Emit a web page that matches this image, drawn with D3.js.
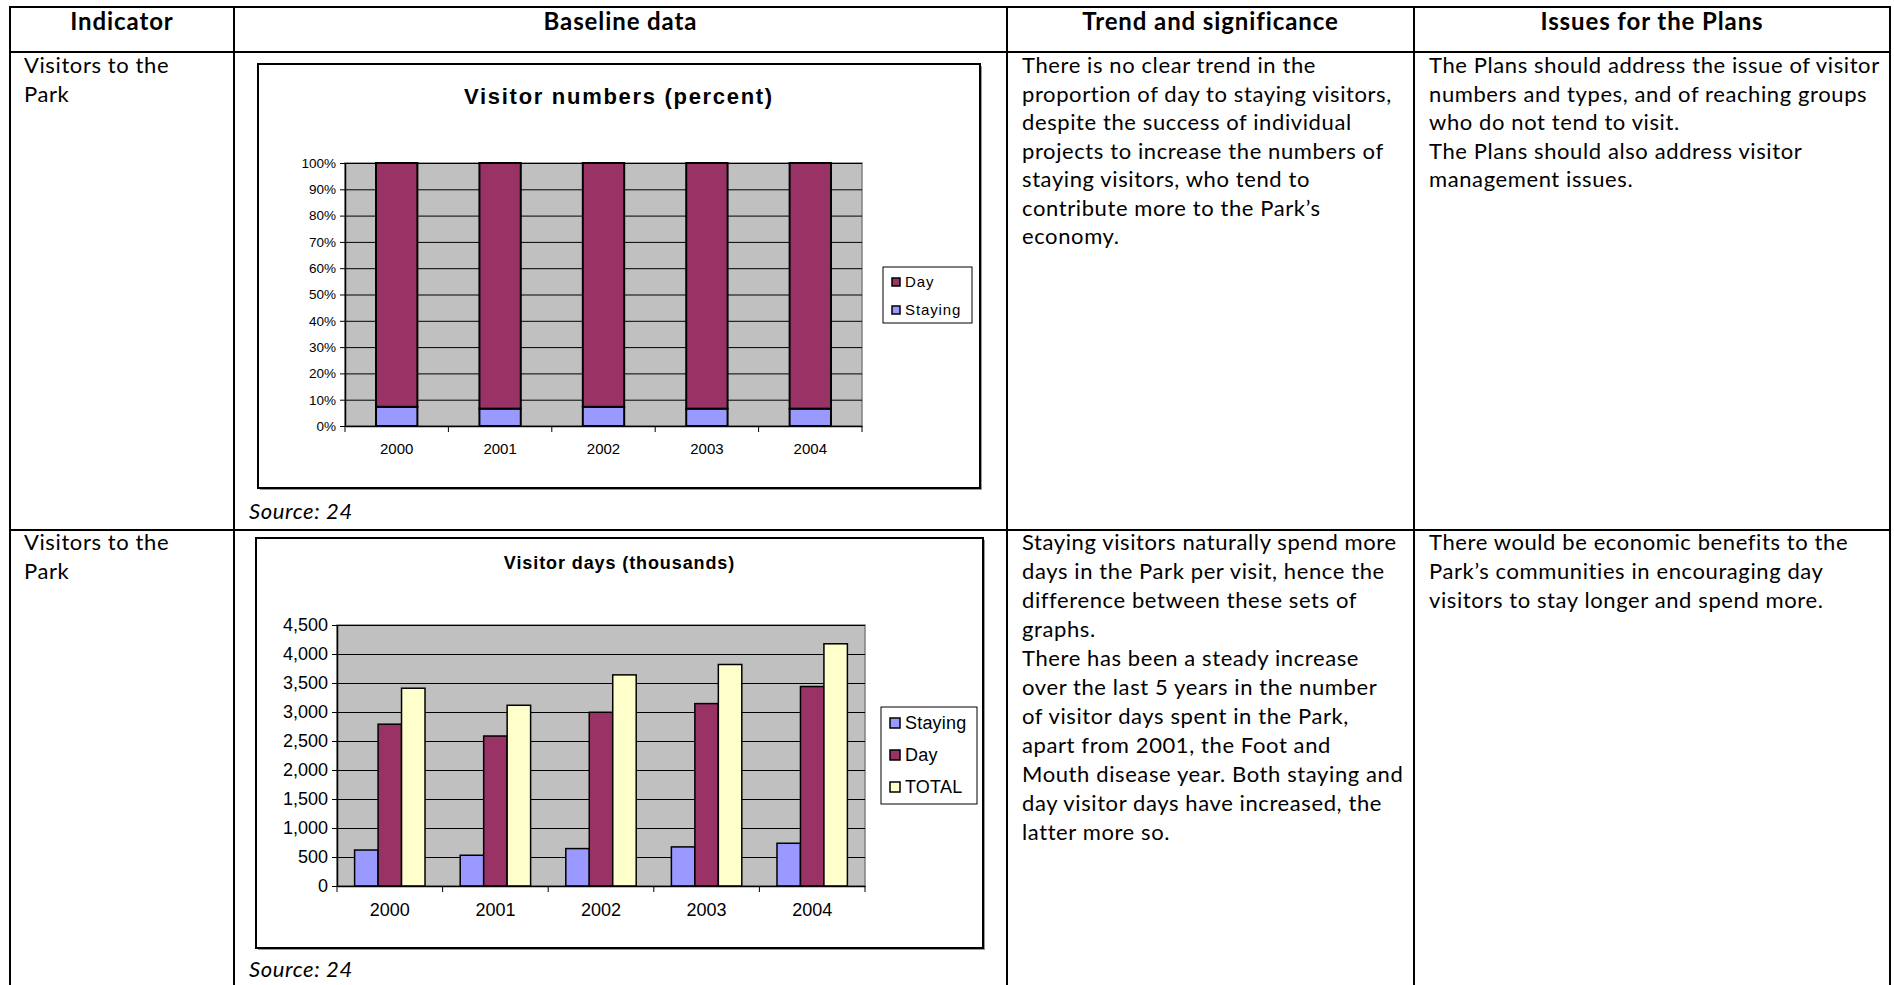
<!DOCTYPE html>
<html>
<head>
<meta charset="utf-8">
<script src="https://cdn.jsdelivr.net/npm/d3@7"></script>
<style>
  body { margin: 0; background: #fff; }
  svg { display: block; }
  .body-text { font-family: Lato, "Open Sans", sans-serif; font-size: 22px; letter-spacing: 0.6px; fill: #000; }
  .head-text { font-family: Lato, "Open Sans", sans-serif; font-size: 24px; letter-spacing: 0.9px; font-weight: bold; fill: #000; }
  .chart-text { font-family: "Liberation Sans", Arial, sans-serif; fill: #000; }
</style>
</head>
<body>
<svg id="page" width="1894" height="985"></svg>
<script>
// ---- data ----
const years = ['2000', '2001', '2002', '2003', '2004'];

// chart 1: visitor numbers, percent
const pctSeries = ['Staying', 'Day'];
const stayingPct = [7.3, 6.6, 7.3, 6.6, 6.6];
const dayPct = [92.7, 93.4, 92.7, 93.4, 93.4];
const pctTicks = [0, 10, 20, 30, 40, 50, 60, 70, 80, 90, 100];

// chart 2: visitor days, thousands
const daySeries = ['Staying', 'Day', 'TOTAL'];
const stayingDays = [620, 530, 645, 674, 737];
const dayDays = [2790, 2586, 2995, 3145, 3439];
const totalDays = [3410, 3116, 3640, 3819, 4176];
const dayTicks = [0, 500, 1000, 1500, 2000, 2500, 3000, 3500, 4000, 4500];

const headers = ['Indicator', 'Baseline data', 'Trend and significance', 'Issues for the Plans'];
const indicator = ['Visitors to the', 'Park'];
const trend1 = ['There is no clear trend in the', 'proportion of day to staying visitors,',
  'despite the success of individual', 'projects to increase the numbers of',
  'staying visitors, who tend to', 'contribute more to the Park\u2019s', 'economy.'];
const issues1 = ['The Plans should address the issue of visitor', 'numbers and types, and of reaching groups',
  'who do not tend to visit.', 'The Plans should also address visitor', 'management issues.'];
const trend2 = ['Staying visitors naturally spend more', 'days in the Park per visit, hence the',
  'difference between these sets of', 'graphs.', 'There has been a steady increase',
  'over the last 5 years in the number', 'of visitor days spent in the Park,',
  'apart from 2001, the Foot and', 'Mouth disease year. Both staying and',
  'day visitor days have increased, the', 'latter more so.'];
const issues2 = ['There would be economic benefits to the', 'Park\u2019s communities in encouraging day',
  'visitors to stay longer and spend more.'];

const colors = { Staying: '#9999FF', Day: '#993366', TOTAL: '#FFFFCC' };

const svg = d3.select('#page');

// ---- table ----
const colX = [10, 234, 1007, 1414, 1890];
const rowY = [7, 52, 530, 985];

const table = svg.append('g');
colX.forEach(x => table.append('line')
  .attr('x1', x).attr('x2', x).attr('y1', rowY[0]).attr('y2', rowY[3])
  .attr('stroke', '#000').attr('stroke-width', 2));
rowY.slice(0, 3).forEach(y => table.append('line')
  .attr('x1', colX[0] - 1).attr('x2', colX[4] + 1).attr('y1', y).attr('y2', y)
  .attr('stroke', '#000').attr('stroke-width', 2));

headers.forEach((h, i) => table.append('text')
  .attr('class', 'head-text')
  .attr('x', (colX[i] + colX[i + 1]) / 2).attr('y', 30)
  .attr('text-anchor', 'middle').text(h));

function block(lines, x, y, lh) {
  const t = table.append('text').attr('class', 'body-text');
  lines.forEach((l, i) => t.append('tspan').attr('x', x).attr('y', y + i * lh).text(l));
}
block(indicator, 24, 73, 28.5);
block(trend1, 1022, 73, 28.5);
block(issues1, 1429, 73, 28.5);
block(indicator, 24, 550, 29);
block(trend2, 1022, 550, 29);
block(issues2, 1429, 550, 29);

[519, 977].forEach(y => table.append('text')
  .attr('class', 'body-text').attr('font-style', 'italic')
  .attr('x', 249).attr('y', y).text('Source: 24'));

// ---- chart helpers ----
function frame(box, title, titleSize, titleY, spacing) {
  const g = svg.append('g');
  g.append('rect').attr('x', box.x + 2).attr('y', box.y + 2)
    .attr('width', box.w).attr('height', box.h).attr('fill', '#999');
  g.append('rect').attr('x', box.x).attr('y', box.y)
    .attr('width', box.w).attr('height', box.h)
    .attr('fill', '#fff').attr('stroke', '#000').attr('stroke-width', 2);
  g.append('text').attr('class', 'chart-text')
    .attr('x', box.x + box.w / 2).attr('y', titleY)
    .attr('text-anchor', 'middle').attr('font-weight', 'bold')
    .attr('font-size', titleSize).attr('letter-spacing', spacing)
    .text(title);
  return g;
}

function plotBase(g, p, y, ticks) {
  g.append('rect').attr('x', p.x).attr('y', p.y).attr('width', p.w).attr('height', p.h)
    .attr('fill', '#C0C0C0').attr('stroke', '#808080').attr('stroke-width', 1.5);

  // gridlines
  g.append('g').attr('transform', `translate(${p.x},0)`)
    .call(d3.axisLeft(y).tickValues(ticks.slice(1)).tickSize(-p.w).tickFormat(''))
    .call(s => s.select('.domain').remove())
    .call(s => s.selectAll('line').attr('stroke', '#000').attr('stroke-width', 1));
}

function plotAxes(g, p, x, y, ticks, fmt, fontSize, yFont, labelPad) {
  const ya = g.append('g').attr('transform', `translate(${p.x},0)`)
    .call(d3.axisLeft(y).tickValues(ticks).tickFormat(fmt).tickSize(5).tickSizeOuter(0).tickPadding(4));
  ya.select('.domain').attr('stroke', '#000').attr('stroke-width', 1.5);
  ya.selectAll('line').attr('stroke', '#000');
  ya.selectAll('text').attr('class', 'chart-text').attr('font-size', yFont).attr('fill', '#000');

  const xa = g.append('g').attr('transform', `translate(0,${p.y + p.h})`)
    .call(d3.axisBottom(x).tickSize(0).tickSizeOuter(0).tickPadding(labelPad));
  xa.select('.domain').attr('stroke', '#000').attr('stroke-width', 1.5);
  xa.selectAll('text').attr('class', 'chart-text').attr('font-size', fontSize).attr('fill', '#000');

  // category boundary ticks
  const bounds = x.domain().map(d => x(d) - x.step() * x.paddingOuter()).concat([p.x + p.w]);
  g.append('g').selectAll('line').data(bounds).join('line')
    .attr('x1', d => d).attr('x2', d => d)
    .attr('y1', p.y + p.h).attr('y2', p.y + p.h + 6)
    .attr('stroke', '#000').attr('stroke-width', 1);
}

function legend(g, box, keys, fontSize, gap, sw, spacing) {
  g.append('rect').attr('x', box.x).attr('y', box.y).attr('width', box.w).attr('height', box.h)
    .attr('fill', '#fff').attr('stroke', '#000').attr('stroke-width', 1);
  keys.forEach((k, i) => {
    const cy = box.y + box.pad + i * gap;
    g.append('rect').attr('x', box.x + 9).attr('y', cy - sw / 2).attr('width', sw).attr('height', sw)
      .attr('fill', colors[k]).attr('stroke', '#000').attr('stroke-width', 1.5);
    g.append('text').attr('class', 'chart-text').attr('font-size', fontSize)
      .attr('letter-spacing', spacing)
      .attr('x', box.x + 9 + sw + 5).attr('y', cy).attr('dy', '0.36em').text(k);
  });
}

// ---- chart 1: stacked 100% columns ----
(function () {
  const g = frame({ x: 258, y: 64, w: 722, h: 424 }, 'Visitor numbers (percent)', 22, 104, 1.7);
  const p = { x: 345, y: 163, w: 517, h: 263 };
  const x = d3.scaleBand().domain(years).range([p.x, p.x + p.w]).paddingInner(0.6).paddingOuter(0.3);
  const y = d3.scaleLinear().domain([0, 100]).range([p.y + p.h, p.y]);
  plotBase(g, p, y, pctTicks);

  const rows = years.map((yr, i) => ({ year: yr, Staying: stayingPct[i], Day: dayPct[i] }));
  const stack = d3.stack().keys(pctSeries)(rows);
  stack.forEach(layer => {
    g.append('g').selectAll('rect').data(layer).join('rect')
      .attr('x', d => x(d.data.year))
      .attr('y', d => y(d[1]))
      .attr('width', x.bandwidth())
      .attr('height', d => y(d[0]) - y(d[1]))
      .attr('fill', colors[layer.key])
      .attr('stroke', '#000').attr('stroke-width', 2);
  });
  plotAxes(g, p, x, y, pctTicks, d => d + '%', 15, 13.5, 17);
  legend(g, { x: 883, y: 267, w: 89, h: 56, pad: 15 }, ['Day', 'Staying'], 15, 28, 8, 0.9);
})();

// ---- chart 2: clustered columns ----
(function () {
  const g = frame({ x: 256, y: 538, w: 727, h: 410 }, 'Visitor days (thousands)', 18, 569, 0.9);
  const p = { x: 337, y: 625, w: 528, h: 261 };
  const x = d3.scaleBand().domain(years).range([p.x, p.x + p.w]).paddingInner(0.3333).paddingOuter(0.1667);
  const x1 = d3.scaleBand().domain(daySeries).range([0, x.bandwidth()]);
  const y = d3.scaleLinear().domain([0, 4500]).range([p.y + p.h, p.y]);
  plotBase(g, p, y, dayTicks);

  const vals = { Staying: stayingDays, Day: dayDays, TOTAL: totalDays };
  const rows = years.map((yr, i) => ({ year: yr, vals: daySeries.map(k => ({ key: k, v: vals[k][i] })) }));
  g.append('g').selectAll('g').data(rows).join('g')
    .attr('transform', d => `translate(${x(d.year)},0)`)
    .selectAll('rect').data(d => d.vals).join('rect')
    .attr('x', d => x1(d.key))
    .attr('y', d => y(d.v))
    .attr('width', x1.bandwidth())
    .attr('height', d => y(0) - y(d.v))
    .attr('fill', d => colors[d.key])
    .attr('stroke', '#000').attr('stroke-width', 1.5);
  plotAxes(g, p, x, y, dayTicks, d3.format(','), 18, 18, 17);
  legend(g, { x: 881, y: 707, w: 96, h: 97, pad: 16 }, daySeries, 18, 32, 10, 0.2);
})();
</script>
</body>
</html>
